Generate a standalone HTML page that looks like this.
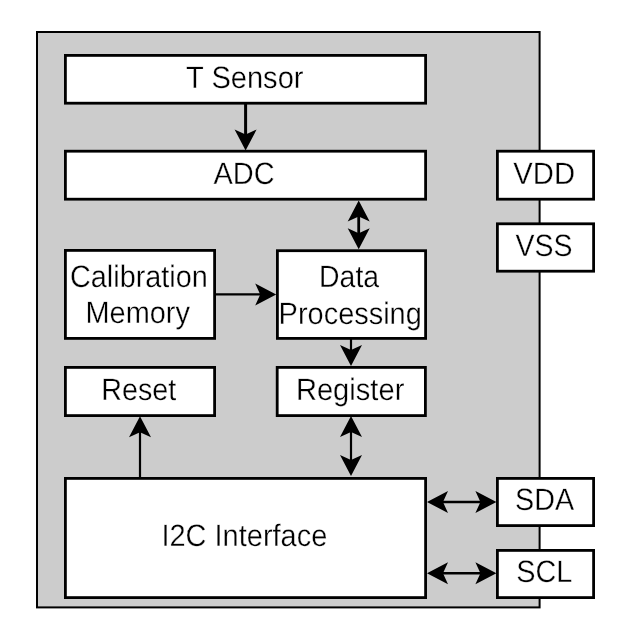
<!DOCTYPE html>
<html><head><meta charset="utf-8"><style>
html,body{margin:0;padding:0;background:#fff;}
body{width:628px;height:636px;overflow:hidden;}
svg{display:block;}
svg{will-change:transform;}
text{font-family:"Liberation Sans",sans-serif;font-size:29px;fill:#000;stroke:#fff;stroke-width:0.3px;text-rendering:geometricPrecision;}
</style></head><body>
<svg width="628" height="636" viewBox="0 0 628 636">
<rect x="37.00" y="32.00" width="502.60" height="575.40" fill="#cccccc" stroke="#000" stroke-width="2.0"/>
<rect x="65.40" y="55.40" width="360.20" height="47.80" fill="#fff" stroke="#000" stroke-width="2.8"/>
<rect x="65.40" y="151.20" width="360.20" height="48.00" fill="#fff" stroke="#000" stroke-width="2.8"/>
<rect x="65.40" y="250.40" width="149.20" height="88.00" fill="#fff" stroke="#000" stroke-width="2.8"/>
<rect x="277.40" y="250.70" width="148.20" height="87.70" fill="#fff" stroke="#000" stroke-width="2.8"/>
<rect x="65.40" y="367.40" width="149.20" height="48.20" fill="#fff" stroke="#000" stroke-width="2.8"/>
<rect x="277.20" y="367.40" width="148.20" height="48.20" fill="#fff" stroke="#000" stroke-width="2.8"/>
<rect x="65.40" y="478.40" width="360.20" height="119.20" fill="#fff" stroke="#000" stroke-width="2.8"/>
<rect x="497.40" y="151.20" width="96.20" height="48.00" fill="#fff" stroke="#000" stroke-width="2.8"/>
<rect x="497.40" y="223.80" width="96.20" height="47.40" fill="#fff" stroke="#000" stroke-width="2.8"/>
<rect x="497.40" y="478.40" width="96.20" height="47.20" fill="#fff" stroke="#000" stroke-width="2.8"/>
<rect x="497.40" y="550.40" width="96.20" height="47.20" fill="#fff" stroke="#000" stroke-width="2.8"/>
<line x1="245.6" y1="104" x2="245.6" y2="140" stroke="#000" stroke-width="3"/>
<polygon points="245.60,150.50 234.60,129.50 245.60,134.50 256.60,129.50" fill="#000"/>
<line x1="358.7" y1="210" x2="358.7" y2="240" stroke="#000" stroke-width="2.8"/>
<polygon points="358.70,200.50 347.70,221.50 358.70,216.50 369.70,221.50" fill="#000"/>
<polygon points="358.70,249.20 347.70,228.20 358.70,233.20 369.70,228.20" fill="#000"/>
<line x1="351" y1="339" x2="351" y2="355" stroke="#000" stroke-width="2.2"/>
<polygon points="351.00,366.00 340.00,345.00 351.00,350.00 362.00,345.00" fill="#000"/>
<line x1="351" y1="426" x2="351" y2="466" stroke="#000" stroke-width="2.2"/>
<polygon points="351.00,416.00 340.00,437.00 351.00,432.00 362.00,437.00" fill="#000"/>
<polygon points="351.00,476.00 340.00,455.00 351.00,460.00 362.00,455.00" fill="#000"/>
<line x1="140" y1="478" x2="140" y2="426" stroke="#000" stroke-width="2.2"/>
<polygon points="140.00,416.20 129.00,437.20 140.00,432.20 151.00,437.20" fill="#000"/>
<line x1="215" y1="294.4" x2="265" y2="294.4" stroke="#000" stroke-width="2.4"/>
<polygon points="276.20,294.40 255.20,283.40 260.20,294.40 255.20,305.40" fill="#000"/>
<line x1="437" y1="502" x2="486" y2="502" stroke="#000" stroke-width="2.4"/>
<polygon points="427.00,502.00 448.00,491.00 443.00,502.00 448.00,513.00" fill="#000"/>
<polygon points="496.40,502.00 475.40,491.00 480.40,502.00 475.40,513.00" fill="#000"/>
<line x1="437" y1="573.3" x2="486" y2="573.3" stroke="#000" stroke-width="2.4"/>
<polygon points="427.00,573.30 448.00,562.30 443.00,573.30 448.00,584.30" fill="#000"/>
<polygon points="496.40,573.30 475.40,562.30 480.40,573.30 475.40,584.30" fill="#000"/>
<text transform="translate(244.78 88.20) scale(1.0025 1.065)" x="0" y="0" text-anchor="middle">T Sensor</text>
<text transform="translate(244.07 183.80) scale(0.9982 1.065)" x="0" y="0" text-anchor="middle">ADC</text>
<text transform="translate(138.89 287.30) scale(0.9951 1.065)" x="0" y="0" text-anchor="middle">Calibration</text>
<text transform="translate(137.74 323.00) scale(0.9970 1.065)" x="0" y="0" text-anchor="middle">Memory</text>
<text transform="translate(349.07 287.30) scale(0.9799 1.065)" x="0" y="0" text-anchor="middle">Data</text>
<text transform="translate(350.21 323.50) scale(0.9980 1.065)" x="0" y="0" text-anchor="middle">Processing</text>
<text transform="translate(138.69 400.30) scale(0.9899 1.065)" x="0" y="0" text-anchor="middle">Reset</text>
<text transform="translate(350.12 400.00) scale(1.0040 1.065)" x="0" y="0" text-anchor="middle">Register</text>
<text transform="translate(244.36 546.00) scale(0.9995 1.065)" x="0" y="0" text-anchor="middle">I2C Interface</text>
<text transform="translate(544.17 183.90) scale(1.0068 1.065)" x="0" y="0" text-anchor="middle">VDD</text>
<text transform="translate(543.98 255.50) scale(0.9810 1.065)" x="0" y="0" text-anchor="middle">VSS</text>
<text transform="translate(544.60 510.00) scale(0.9905 1.065)" x="0" y="0" text-anchor="middle">SDA</text>
<text transform="translate(544.29 582.00) scale(0.9952 1.065)" x="0" y="0" text-anchor="middle">SCL</text>
</svg>
</body></html>
